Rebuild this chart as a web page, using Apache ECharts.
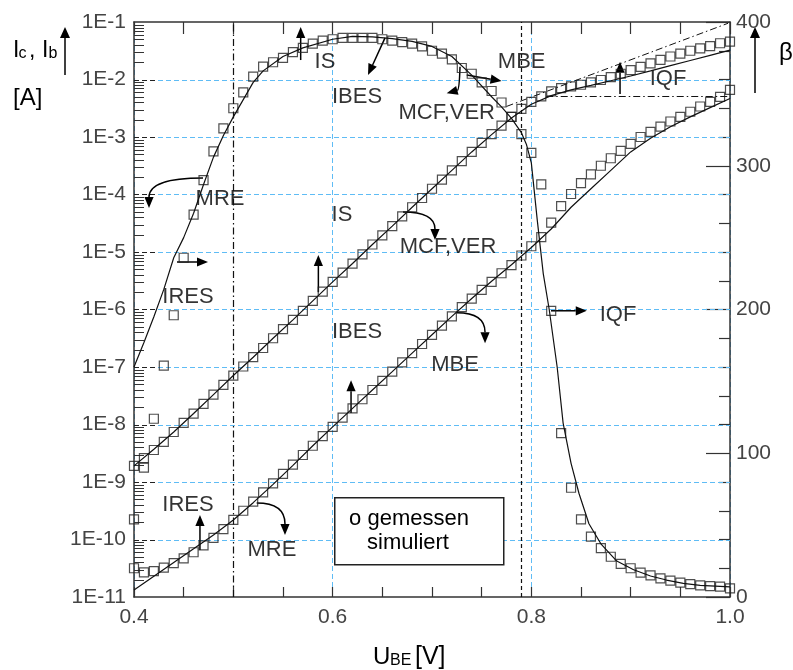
<!DOCTYPE html>
<html>
<head>
<meta charset="utf-8">
<script src="https://cdn.jsdelivr.net/npm/echarts@6.0.0/dist/echarts.min.js"></script>
<style>
html,body{margin:0;padding:0;background:#fff;}
#chart{width:793px;height:670px;}
</style>
</head>
<body>
<div id="chart"></div>
<script>
// Messpunkte: U_BE [V]
var uMess = [0.40,0.41,0.42,0.43,0.44,0.45,0.46,0.47,0.48,0.49,
  0.50,0.51,0.52,0.53,0.54,0.55,0.56,0.57,0.58,0.59,
  0.60,0.61,0.62,0.63,0.64,0.65,0.66,0.67,0.68,0.69,
  0.70,0.71,0.72,0.73,0.74,0.75,0.76,0.77,0.78,0.79,
  0.80,0.81,0.82,0.83,0.84,0.85,0.86,0.87,0.88,0.89,
  0.90,0.91,0.92,0.93,0.94,0.95,0.96,0.97,0.98,0.99,1.00];
// Ic gemessen [A]
var icMess = [1.9e-9,2.6e-9,3.6e-9,5.0e-9,7.4e-9,1.07e-8,1.55e-8,2.29e-8,3.31e-8,4.9e-8,
  7.1e-8,1.02e-7,1.48e-7,2.14e-7,3.16e-7,4.57e-7,6.6e-7,9.5e-7,1.41e-6,2.04e-6,
  3.02e-6,4.37e-6,6.3e-6,9.1e-6,1.35e-5,1.95e-5,2.82e-5,4.17e-5,6.0e-5,8.7e-5,
  1.26e-4,1.82e-4,2.63e-4,3.8e-4,5.5e-4,7.9e-4,1.12e-3,1.58e-3,2.24e-3,3.09e-3,
  4.07e-3,5.1e-3,6.2e-3,7.1e-3,7.6e-3,8.1e-3,8.9e-3,9.8e-3,1.10e-2,1.26e-2,
  1.45e-2,1.66e-2,1.91e-2,2.19e-2,2.51e-2,2.82e-2,3.16e-2,3.47e-2,3.8e-2,4.27e-2,4.57e-2];
// Ib gemessen [A]
var ibMess = [3.16e-11,2.69e-11,2.82e-11,3.24e-11,3.89e-11,4.68e-11,6.0e-11,7.9e-11,1.07e-10,1.51e-10,
  2.19e-10,3.16e-10,4.57e-10,6.6e-10,9.5e-10,1.38e-9,2.0e-9,2.95e-9,4.27e-9,6.3e-9,
  9.1e-9,1.32e-8,1.91e-8,2.75e-8,3.98e-8,5.75e-8,8.3e-8,1.2e-7,1.74e-7,2.51e-7,
  3.63e-7,5.25e-7,7.6e-7,1.1e-6,1.55e-6,2.19e-6,3.02e-6,4.27e-6,5.9e-6,8.7e-6,
  1.26e-5,1.82e-5,3.24e-5,6.3e-5,1.02e-4,1.58e-4,2.24e-4,3.16e-4,4.27e-4,5.75e-4,
  7.6e-4,1.0e-3,1.23e-3,1.51e-3,1.86e-3,2.24e-3,2.75e-3,3.39e-3,4.07e-3,5.0e-3,6.6e-3];
// beta gemessen
var betaMess = [54,90,124,161,196,236,266,290,310,326,
  340,351,362,369,372,375,379,382,385,387,
  388,389,389,389,389,388,387,386,385,383,
  380,378,374,368,364,358,352,344,334,322,
  309,287,199,114,76,54,42,34,28,23,
  20,17,15,13,11.4,10,9,8.1,7.6,7.2,6];

// Simulation
var uSim = [0.40,0.42,0.44,0.46,0.48,0.50,0.52,0.54,0.56,0.58,
  0.60,0.62,0.64,0.66,0.68,0.70,0.72,0.74,0.76,0.78,
  0.80,0.82,0.84,0.86,0.88,0.90,0.92,0.94,0.96,0.98,1.00];
var icSim = [1.91e-9,3.72e-9,7.4e-9,1.55e-8,3.31e-8,7.1e-8,1.48e-7,3.16e-7,6.6e-7,1.41e-6,
  3.02e-6,6.3e-6,1.35e-5,2.82e-5,6.0e-5,1.26e-4,2.63e-4,5.5e-4,1.10e-3,2.14e-3,
  3.72e-3,5.25e-3,6.6e-3,7.9e-3,9.5e-3,1.15e-2,1.41e-2,1.74e-2,2.14e-2,2.63e-2,3.24e-2];
var ibSim = [1.32e-11,2.29e-11,3.98e-11,6.9e-11,1.2e-10,2.19e-10,4.37e-10,9.1e-10,1.95e-9,4.27e-9,
  9.1e-9,1.91e-8,3.98e-8,8.3e-8,1.74e-7,3.63e-7,7.6e-7,1.55e-6,3.09e-6,6.0e-6,
  1.2e-5,2.51e-5,6.0e-5,1.26e-4,2.63e-4,5.5e-4,9.5e-4,1.51e-3,2.24e-3,3.24e-3,4.68e-3];
var uBetaSim = [0.40,0.41,0.42,0.43,0.44,0.45,0.46,0.47,0.48,0.49,0.50,0.51,0.52,0.53,
  0.55,0.57,0.60,0.62,0.64,0.66,0.68,0.70,0.72,0.74,0.76,
  0.77,0.78,0.79,0.795,0.80,0.806,0.812,0.818,0.826,0.832,0.84,0.848,0.858,0.87,0.886,0.903,0.92,0.936,0.953,0.97,1.00];
var betaSim = [160,177,195,214,236,250,267,287,306,321,334,346,358,366,
  376,382,388,390,389.6,388.5,386.5,383,376,363,348,
  341,333,323,315,302,262,225,200,160,121,93,72,51,37,25,19,14.6,11.8,9.5,8.1,7];

// Achsenbeschriftung
var xTickLabels = ['0.4', '0.6', '0.8', '1.0'];
var decadeLabels = ['1E-11','1E-10','1E-9','1E-8','1E-7','1E-6','1E-5','1E-4','1E-3','1E-2','1E-1'];

// Pfeile in Datenkoordinaten: [U1, I1, U2, I2] (Spitze bei U2/I2)
var arrowsStraight = [
  [0.5678, 2.18e-2, 0.5678, 8.2e-2],
  [0.6527, 5.3e-2, 0.6356, 1.2e-2],
  [0.735, 1.2e-2, 0.770, 9.4e-3],
  [0.8893, 5.6e-3, 0.8893, 2.04e-2],
  [0.5856, 2.0e-6, 0.5856, 8.9e-6],
  [0.4433, 6.7e-6, 0.4745, 6.7e-6],
  [0.6185, 1.58e-8, 0.6185, 5.9e-8],
  [0.8198, 9.5e-7, 0.8558, 9.5e-7],
  [0.4664, 6.6e-11, 0.4664, 2.67e-10]
];
// gebogene Pfeile: [U1, I1, U2, I2, Ukontroll, Ikontroll]
var arrowsBent = [
  [0.7282, 1.67e-2, 0.7148, 5.75e-3, 0.7275, 6.6e-3],
  [0.4695, 1.94e-4, 0.4151, 5.8e-5, 0.4151, 1.94e-4],
  [0.6708, 4.97e-5, 0.703, 1.62e-5, 0.703, 4.97e-5],
  [0.7249, 8.8e-7, 0.7534, 2.6e-7, 0.7534, 8.8e-7],
  [0.5235, 4.3e-10, 0.552, 1.2e-10, 0.552, 4.3e-10]
];
var notes = [
  {text: 'IS', at: [0.5923, 2.0e-2]},
  {text: 'IBES', at: [0.6245, 4.97e-3]},
  {text: 'MBE', at: [0.7903, 2.0e-2]},
  {text: 'MCF,VER', at: [0.7148, 2.6e-3]},
  {text: 'IQF', at: [0.9376, 1.02e-2]},
  {text: 'MRE', at: [0.4866, 8.4e-5]},
  {text: 'IS', at: [0.6094, 4.4e-5]},
  {text: 'IRES', at: [0.4544, 1.65e-6]},
  {text: 'IBES', at: [0.6245, 4.06e-7]},
  {text: 'MCF,VER', at: [0.7161, 1.22e-5]},
  {text: 'MBE', at: [0.7232, 1.08e-7]},
  {text: 'IQF', at: [0.8873, 8.0e-7]},
  {text: 'IRES', at: [0.4544, 4.0e-10]},
  {text: 'MRE', at: [0.5389, 6.6e-11]}
];

var FONT = '"Liberation Sans", Arial, sans-serif';
var GRID_BLUE = '#5fbcf5';
var AX = '#333';
var LOG_Y = 2; // Index der log. Stromachse

function pairs(xs, ys) {
  return xs.map(function (x, i) { return [x, ys[i]]; });
}

// Pfeilspitze bei p2, Richtung von q nach p2
function arrowHead(q, p2) {
  var dx = p2[0] - q[0], dy = p2[1] - q[1];
  var len = Math.sqrt(dx * dx + dy * dy) || 1;
  var ux = dx / len, uy = dy / len;
  var L = 11, W = 4.6;
  var bx = p2[0] - ux * L, by = p2[1] - uy * L;
  return {base: [bx, by], points: [[p2[0], p2[1]], [bx - uy * W, by + ux * W], [bx + uy * W, by - ux * W]]};
}

function renderArrow(params, api) {
  var p1 = api.coord([api.value(0), api.value(1)]);
  var p2 = api.coord([api.value(2), api.value(3)]);
  var bent = !isNaN(api.value(4));
  var cp = bent ? api.coord([api.value(4), api.value(5)]) : p1;
  var head = arrowHead(cp, p2);
  var stroke = {stroke: '#000', lineWidth: 1.5, fill: null};
  var body = bent
    ? {type: 'bezierCurve', shape: {x1: p1[0], y1: p1[1], x2: head.base[0], y2: head.base[1], cpx1: cp[0], cpy1: cp[1]}, style: stroke}
    : {type: 'line', shape: {x1: p1[0], y1: p1[1], x2: head.base[0], y2: head.base[1]}, style: stroke};
  return {type: 'group', children: [body, {type: 'polygon', shape: {points: head.points}, style: {fill: '#000'}}]};
}

// Gitter und Teilstriche der log. Achse:
// Dekaden -> blaue Gitterlinie + langer gestrichelter Strich, Zwischenwerte -> kurzer Strich
var tickVals = [];
for (var e = -11; e < -1; e++) {
  for (var k = 1; k <= 9; k++) if (e > -11 || k > 1) tickVals.push([0.4, k * Math.pow(10, e), k === 1 ? 1 : 0]);
}

function renderTick(params, api) {
  var p = api.coord([api.value(0), api.value(1)]);
  var y = Math.round(p[1]) + 0.5;
  if (api.value(2) !== 1) {
    return {type: 'line', shape: {x1: p[0], y1: y, x2: p[0] + 10, y2: y}, style: {stroke: '#333', lineWidth: 1}};
  }
  var right = api.coord([1.0, api.value(1)])[0];
  return {type: 'group', children: [
    {type: 'line', shape: {x1: p[0], y1: y, x2: right, y2: y}, style: {stroke: GRID_BLUE, lineWidth: 1, lineDash: [5, 3]}},
    {type: 'line', shape: {x1: p[0], y1: y, x2: p[0] + 22, y2: y}, style: {stroke: '#222', lineWidth: 1.2, lineDash: [5, 3]}}
  ]};
}

var hollow = {color: 'rgba(255,255,255,0)', borderColor: '#222', borderWidth: 1.2};
var dashDot = [7, 3, 1.5, 3];

var chart = echarts.init(document.getElementById('chart'), null, {renderer: 'canvas'});

var option = {
  animation: false,
  backgroundColor: '#fff',
  textStyle: {fontFamily: FONT},
  grid: {left: 134, top: 22, width: 596, height: 575, containLabel: false},
  xAxis: [
    {
      type: 'value', position: 'bottom', min: 0.4, max: 1.0, interval: 0.05,
      axisLine: {show: true, lineStyle: {color: AX, width: 1.5}},
      axisTick: {show: true, inside: true, length: 10, lineStyle: {color: AX, width: 1.2}},
      axisLabel: {
        show: true, margin: 10, fontSize: 21, color: '#444', fontFamily: FONT,
        formatter: function (v) {
          var i = Math.round((v - 0.4) / 0.2);
          return Math.abs(v - (0.4 + i * 0.2)) < 1e-6 ? xTickLabels[i] : '';
        }
      },
      splitLine: {show: false}
    },
    {
      type: 'value', position: 'top', min: 0.4, max: 1.0, interval: 0.05,
      axisLine: {show: true, lineStyle: {color: AX, width: 1.5}},
      axisTick: {show: true, inside: true, length: 12, lineStyle: {color: AX, width: 1.2}},
      axisLabel: {show: false},
      splitLine: {show: false}
    },
    {
      type: 'value', position: 'bottom', min: 0.4, max: 1.0, interval: 0.2,
      axisLine: {show: false}, axisTick: {show: false}, axisLabel: {show: false},
      splitLine: {show: true, lineStyle: {color: GRID_BLUE, width: 1, type: [5, 3]}}
    }
  ],
  yAxis: [
    {
      // Dekaden (Exponent) fuer die Beschriftung
      type: 'value', position: 'left', min: -11, max: -1, interval: 1,
      axisLine: {show: true, lineStyle: {color: AX, width: 1.5}},
      axisTick: {show: false},
      axisLabel: {
        show: true, margin: 8, fontSize: 21, color: '#444', fontFamily: FONT,
        formatter: function (v) { return decadeLabels[Math.round(v) + 11] || ''; }
      },
      splitLine: {show: false}
    },
    {
      type: 'value', position: 'right', min: 0, max: 400, interval: 100,
      axisLine: {show: true, lineStyle: {color: AX, width: 1.5}},
      axisTick: {show: true, inside: true, length: 24, lineStyle: {color: AX, width: 1.2}},
      minorTick: {show: true, splitNumber: 5, length: 11, lineStyle: {color: AX, width: 1.2}},
      minorSplitLine: {show: false},
      axisLabel: {show: true, margin: 6, fontSize: 21, color: '#444', fontFamily: FONT},
      splitLine: {show: false}
    },
    {
      // log. Stromachse fuer die Daten (unsichtbar)
      type: 'log', logBase: 10, min: 1e-11, max: 1e-1, position: 'left', show: false
    }
  ],
  series: [
    {
      name: 'ticks', type: 'custom', xAxisIndex: 0, yAxisIndex: LOG_Y, silent: true, z: 1,
      data: tickVals, renderItem: renderTick
    },
    {
      name: 'Ic gemessen', type: 'scatter', xAxisIndex: 0, yAxisIndex: LOG_Y,
      symbol: 'rect', symbolSize: 9, itemStyle: hollow, data: pairs(uMess, icMess)
    },
    {
      name: 'Ib gemessen', type: 'scatter', xAxisIndex: 0, yAxisIndex: LOG_Y,
      symbol: 'rect', symbolSize: 9, itemStyle: hollow, data: pairs(uMess, ibMess)
    },
    {
      name: 'beta gemessen', type: 'scatter', xAxisIndex: 0, yAxisIndex: 1,
      symbol: 'rect', symbolSize: 9, itemStyle: hollow, data: pairs(uMess, betaMess)
    },
    {
      name: 'Ic simuliert', type: 'line', xAxisIndex: 0, yAxisIndex: LOG_Y, showSymbol: false,
      lineStyle: {color: '#111', width: 1.2}, data: pairs(uSim, icSim),
      markLine: {
        silent: true, symbol: 'none', label: {show: false},
        lineStyle: {color: '#111', width: 1.2},
        data: [
          {xAxis: 0.5, lineStyle: {color: '#111', width: 1.2, type: dashDot}},
          {xAxis: 0.788, lineStyle: {color: '#111', width: 1.2, type: [4, 3]}},
          [{coord: [0.775, 3.4e-3], lineStyle: {color: '#111', width: 1, type: dashDot}}, {coord: [0.998, 9.5e-2]}],
          [{coord: [0.815, 5.16e-3], lineStyle: {color: '#111', width: 1, type: dashDot}}, {coord: [1.0, 5.16e-3]}]
        ]
      }
    },
    {
      name: 'Ib simuliert', type: 'line', xAxisIndex: 0, yAxisIndex: LOG_Y, showSymbol: false,
      lineStyle: {color: '#111', width: 1.2}, data: pairs(uSim, ibSim)
    },
    {
      name: 'beta simuliert', type: 'line', xAxisIndex: 0, yAxisIndex: 1, showSymbol: false,
      lineStyle: {color: '#111', width: 1.2}, data: pairs(uBetaSim, betaSim)
    },
    {
      name: 'arrowsStraight', type: 'custom', xAxisIndex: 0, yAxisIndex: LOG_Y, silent: true,
      dimensions: ['u1', 'i1', 'u2', 'i2', 'uc', 'ic'], encode: {x: 0, y: 1},
      data: arrowsStraight.map(function (a) { return a.concat([NaN, NaN]); }),
      renderItem: renderArrow
    },
    {
      name: 'arrowsBent', type: 'custom', xAxisIndex: 0, yAxisIndex: LOG_Y, silent: true,
      dimensions: ['u1', 'i1', 'u2', 'i2', 'uc', 'ic'], encode: {x: 0, y: 1},
      data: arrowsBent, renderItem: renderArrow
    },
    {
      name: 'notes', type: 'scatter', xAxisIndex: 0, yAxisIndex: LOG_Y, silent: true,
      symbolSize: 1, itemStyle: {color: 'rgba(0,0,0,0)'},
      label: {show: true, position: 'inside', formatter: '{b}', fontSize: 22, color: '#000', fontFamily: FONT},
      data: notes.map(function (n) { return {name: n.text, value: n.at}; })
    }
  ],
  graphic: [
    // Legende
    {type: 'rect', left: 334, top: 497, shape: {width: 169, height: 67}, style: {fill: '#fff', stroke: '#222', lineWidth: 1.5}, z: 100},
    {type: 'text', x: 409, y: 519, z: 101, style: {text: 'o gemessen', font: '22px ' + FONT, fill: '#000', align: 'center', verticalAlign: 'middle'}},
    {type: 'text', x: 408, y: 543, z: 101, style: {text: 'simuliert', font: '22px ' + FONT, fill: '#000', align: 'center', verticalAlign: 'middle'}},
    // linke Achsentitel
    {type: 'text', x: 13, y: 51, style: {text: 'I', font: '23px ' + FONT, fill: '#000', verticalAlign: 'middle'}},
    {type: 'text', x: 18.5, y: 54, style: {text: 'c', font: '16px ' + FONT, fill: '#000', verticalAlign: 'middle'}},
    {type: 'text', x: 29, y: 51, style: {text: ',', font: '23px ' + FONT, fill: '#000', verticalAlign: 'middle'}},
    {type: 'text', x: 42, y: 51, style: {text: 'I', font: '23px ' + FONT, fill: '#000', verticalAlign: 'middle'}},
    {type: 'text', x: 48.5, y: 54, style: {text: 'b', font: '16px ' + FONT, fill: '#000', verticalAlign: 'middle'}},
    {type: 'line', shape: {x1: 65, y1: 75, x2: 65, y2: 36}, style: {stroke: '#000', lineWidth: 1.5}},
    {type: 'polygon', shape: {points: [[65, 27], [60, 38], [70, 38]]}, style: {fill: '#000'}},
    {type: 'text', x: 13, y: 98, style: {text: '[A]', font: '24px ' + FONT, fill: '#000', verticalAlign: 'middle'}},
    // rechte Achsentitel
    {type: 'text', x: 779, y: 53, style: {text: 'β', font: '24px ' + FONT, fill: '#000', verticalAlign: 'middle'}},
    {type: 'line', shape: {x1: 755, y1: 93, x2: 755, y2: 36}, style: {stroke: '#000', lineWidth: 1.5}},
    {type: 'polygon', shape: {points: [[755, 27], [750, 38], [760, 38]]}, style: {fill: '#000'}},
    // x-Achsentitel
    {type: 'text', x: 373, y: 657, style: {text: 'U', font: '24px ' + FONT, fill: '#000', verticalAlign: 'middle'}},
    {type: 'text', x: 390, y: 661, style: {text: 'BE', font: '16px ' + FONT, fill: '#000', verticalAlign: 'middle'}},
    {type: 'text', x: 415, y: 657, style: {text: '[V]', font: '25px ' + FONT, fill: '#000', verticalAlign: 'middle'}}
  ]
};

chart.setOption(option);
</script>
</body>
</html>
